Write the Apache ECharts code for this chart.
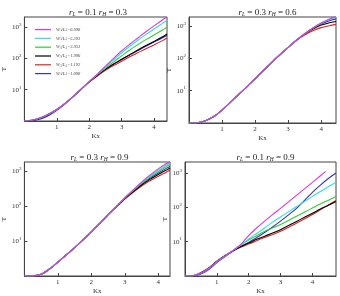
<!DOCTYPE html>
<html>
<head>
<meta charset="utf-8">
<title></title>
<script src="https://cdn.jsdelivr.net/npm/echarts@6/dist/echarts.min.js"></script>
</head>
<body style="margin:0">
<div id="chart" style="width:340px;height:296px;"></div>
<script>
// legend entries (shared by all four panels)
var names = ['6.998', '5.293', '3.953', '1.996', '1.192', '1.098'];
var colors = ['#e033e0', '#33dddd', '#33cc33', '#000000', '#dd2222', '#3333bb'];

// Kx sample points
var kx1 = [0, 0.25, 0.5, 0.75, 1, 1.25, 1.5, 1.75, 2, 2.25, 2.5, 2.75, 3, 3.25, 3.5, 3.75, 4, 4.25, 4.4];
var kx2 = [0, 0.25, 0.5, 0.75, 1, 1.25, 1.5, 1.75, 2, 2.25, 2.5, 2.75, 3, 3.25, 3.5, 3.75, 4, 4.25, 4.45];
var kx3 = [0, 0.25, 0.5, 0.75, 1, 1.25, 1.5, 1.75, 2, 2.25, 2.5, 2.75, 3, 3.25, 3.5, 3.75, 4, 4.25, 4.35];
var kx4 = [0, 0.25, 0.5, 0.75, 1, 1.25, 1.5, 1.75, 2, 2.25, 2.5, 2.75, 3, 3.25, 3.5, 3.75, 4, 4.25, 4.5, 4.74];
var kx4m = [0, 0.25, 0.5, 0.75, 1, 1.25, 1.5, 1.75, 2, 2.25, 2.5, 2.75, 3, 3.25, 3.5, 3.75, 4, 4.25, 4.42];

// panel 1: rL=0.1 rH=0.3
var p1m = [1, 1.07, 1.26, 1.66, 2.34, 3.63, 6.03, 10.5, 18.2, 31.6, 56.2, 100, 174, 282, 447, 708, 1096, 1660, 2089];
var p1c = [1, 1.07, 1.26, 1.66, 2.34, 3.63, 6.03, 10.5, 18.2, 30.9, 52.5, 89.1, 151, 240, 380, 575, 871, 1288, 1622];
var p1g = [1, 1.07, 1.26, 1.66, 2.34, 3.63, 6.03, 10.5, 18.2, 30.2, 49, 77.6, 120, 186, 275, 398, 562, 794, 1000];
var p1k = [1, 1.06, 1.24, 1.64, 2.32, 3.6, 6.0, 10.4, 17.8, 28.8, 44.7, 66.1, 93.3, 132, 186, 257, 347, 479, 603];
var p1r = [1, 1.06, 1.25, 1.65, 2.32, 3.6, 5.9, 10.2, 17.4, 27.5, 41.7, 58.9, 81.3, 112, 151, 204, 269, 363, 447];
var p1b = [1, 1.03, 1.15, 1.5, 2.2, 3.5, 5.9, 10.3, 17.8, 28.2, 43.7, 64.6, 91.2, 129, 178, 245, 331, 447, 550];

// panel 2: rL=0.3 rH=0.6
var p2m = [1, 1.02, 1.17, 1.58, 2.51, 4.37, 7.59, 13.2, 23.4, 41.7, 74.1, 129, 219, 363, 575, 871, 1230, 1622, 2000];
var p2c = [1, 1.02, 1.17, 1.58, 2.51, 4.37, 7.59, 13.2, 23.4, 41.7, 74.1, 129, 219, 363, 575, 870, 1225, 1600, 1950];
var p2g = [1, 1.02, 1.17, 1.58, 2.51, 4.37, 7.59, 13.2, 23.4, 41.7, 74.1, 129, 219, 363, 572, 860, 1202, 1585, 1905];
var p2k = [1, 1.02, 1.17, 1.58, 2.51, 4.37, 7.59, 13.2, 23.4, 41.7, 74.1, 129, 218, 360, 562, 813, 1072, 1259, 1380];
var p2r = [1, 1.02, 1.17, 1.58, 2.51, 4.37, 7.59, 13.2, 23.4, 41.7, 74.1, 128, 215, 355, 525, 708, 891, 1023, 1122];
var p2b = [1, 1.02, 1.17, 1.58, 2.51, 4.37, 7.59, 13.2, 23.4, 41.7, 74.1, 129, 219, 362, 570, 850, 1148, 1445, 1660];

// panel 3: rL=0.3 rH=0.9
var p3m = [1, 1.01, 1.12, 1.58, 2.51, 3.98, 6.46, 10.7, 18.2, 31.6, 56.2, 97.7, 170, 288, 479, 759, 1148, 1622, 1820];
var p3c = [1, 1.01, 1.12, 1.58, 2.51, 3.98, 6.46, 10.7, 18.2, 31.6, 56.2, 97.7, 170, 282, 457, 708, 1047, 1479, 1698];
var p3g = [1, 1.01, 1.12, 1.58, 2.51, 3.98, 6.46, 10.7, 18.2, 31.6, 56.2, 97.7, 170, 275, 437, 661, 955, 1349, 1549];
var p3k = [1, 1.01, 1.12, 1.58, 2.51, 3.98, 6.46, 10.7, 18.2, 31.6, 56.2, 96, 162, 257, 398, 575, 794, 1072, 1202];
var p3r = [1, 1.01, 1.12, 1.58, 2.51, 3.98, 6.46, 10.7, 18.2, 31.6, 56, 95, 158, 245, 372, 525, 708, 933, 1047];
var p3b = [1, 1.01, 1.12, 1.58, 2.51, 3.98, 6.46, 10.7, 18.2, 31.6, 56.2, 97.7, 168, 269, 417, 617, 871, 1202, 1349];

// panel 4: rL=0.1 rH=0.9 (magenta stops at Kx≈4.42)
var p4m = [1, 1.02, 1.2, 1.66, 2.63, 3.8, 5.5, 8.3, 15.1, 25.1, 39.8, 61.7, 93.3, 144.5, 224, 347, 537, 832, 1122];
var p4c = [1, 1.02, 1.2, 1.66, 2.63, 3.8, 5.5, 7.94, 12.0, 17.4, 25.1, 37.2, 52.5, 74.1, 104.7, 147.9, 208.9, 288.4, 398, 537];
var p4g = [1, 1.02, 1.2, 1.66, 2.63, 3.8, 5.5, 7.94, 11.2, 15.1, 20, 25.1, 31.6, 41.7, 55, 72.4, 95.5, 126, 162, 209];
var p4k = [1, 1.02, 1.23, 1.7, 2.69, 3.89, 5.4, 7.24, 9.12, 11.7, 14.5, 17.8, 22.4, 29.5, 38.9, 51.3, 67.6, 89.1, 115, 148];
var p4r = [1, 1.03, 1.26, 1.74, 2.69, 3.89, 5.37, 6.9, 8.5, 10.7, 13.2, 16.2, 20, 26.3, 34.7, 45.7, 61.7, 85.1, 117.5, 158.5];
var p4b = [1, 1.01, 1.15, 1.55, 2.45, 3.63, 5.25, 7.24, 9.55, 13.2, 18.6, 26.9, 39.8, 60.3, 93.3, 158.5, 275, 447, 692, 1000];

var titles = [['0.1', '0.3'], ['0.3', '0.6'], ['0.3', '0.9'], ['0.1', '0.9']];
var xMax = [4.4, 4.45, 4.35, 4.74];
var yMax = [2100, 1900, 1800, 2100];

var grids = [
    {left: 19, top: 17, width: 148, height: 104},
    {left: 189, top: 17, width: 147, height: 106},
    {left: 19, top: 162, width: 151, height: 114},
    {left: 185, top: 162, width: 151, height: 114}
];
var panels = [
    [[kx1, kx1, kx1, kx1, kx1, kx1], [p1m, p1c, p1g, p1k, p1r, p1b]],
    [[kx2, kx2, kx2, kx2, kx2, kx2], [p2m, p2c, p2g, p2k, p2r, p2b]],
    [[kx3, kx3, kx3, kx3, kx3, kx3], [p3m, p3c, p3g, p3k, p3r, p3b]],
    [[kx4m, kx4, kx4, kx4, kx4, kx4], [p4m, p4c, p4g, p4k, p4r, p4b]]
];

var serif = 'Liberation Serif';
var option = {
    backgroundColor: '#fff',
    animation: false,
    textStyle: {fontFamily: serif},
    title: [],
    grid: [],
    xAxis: [],
    yAxis: [],
    legend: {
        left: 30, top: 22,
        orient: 'vertical',
        icon: 'rect',
        itemWidth: 16, itemHeight: 1.2, itemGap: 3.6,
        data: names,
        formatter: function (n) { return 'W{s|A}/L{s|A}=' + n; },
        textStyle: {
            fontSize: 4.5, lineHeight: 5.2, color: '#444', fontFamily: serif, fontStyle: 'italic',
            rich: {s: {fontSize: 3, verticalAlign: 'bottom', fontFamily: serif, color: '#444'}}
        }
    },
    series: []
};

grids.forEach(function (g, i) {
    option.grid.push(Object.assign({show: true, borderColor: '#444', borderWidth: 1, backgroundColor: '#fff'}, g));
    option.title.push({
        text: '{i|r}{s|L}{n| = ' + titles[i][0] + ' }{i|r}{s|H}{n| = ' + titles[i][1] + '}',
        left: g.left + g.width / 2, top: g.top - 14, textAlign: 'center',
        textStyle: {
            fontWeight: 'normal',
            rich: {
                i: {fontFamily: serif, fontStyle: 'italic', fontWeight: 'normal', fontSize: 9, color: '#222'},
                s: {fontFamily: serif, fontStyle: 'italic', fontWeight: 'normal', fontSize: 5.5, color: '#222', verticalAlign: 'bottom', padding: [4, 0, 0, 0]},
                n: {fontFamily: serif, fontWeight: 'normal', fontSize: 9, color: '#222'}
            }
        }
    });
    option.xAxis.push({
        type: 'value', gridIndex: i, min: 0, max: xMax[i],
        name: 'Kx', nameLocation: 'middle', nameGap: 12,
        nameTextStyle: {fontFamily: serif, fontSize: 7, color: '#333'},
        axisLine: {lineStyle: {color: '#444'}},
        axisTick: {inside: true, length: 3, customValues: [1, 2, 3, 4], lineStyle: {color: '#444'}},
        axisLabel: {customValues: [1, 2, 3, 4], fontSize: 7, color: '#333', margin: 3, fontFamily: serif},
        splitLine: {show: false}
    });
    option.yAxis.push({
        type: 'log', logBase: 10, gridIndex: i, min: 1, max: yMax[i],
        name: 'T', nameLocation: 'middle', nameGap: 13, nameRotate: 90,
        nameTextStyle: {fontFamily: serif, fontSize: 7, color: '#333'},
        axisLine: {lineStyle: {color: '#444'}},
        axisTick: {inside: true, length: 3, customValues: [10, 100, 1000], lineStyle: {color: '#444'}},
        axisLabel: {
            customValues: [10, 100, 1000], margin: 3, color: '#333', fontSize: 7, fontFamily: serif,
            formatter: function (v) { return '10{s|' + Math.round(Math.log10(v)) + '}'; },
            rich: {s: {fontSize: 5, verticalAlign: 'top', padding: [0, 0, 5, 0], color: '#333', fontFamily: serif}}
        },
        splitLine: {show: false}
    });
    var xs = panels[i][0];
    panels[i][1].forEach(function (vals, j) {
        option.series.push({
            name: names[j], type: 'line', xAxisIndex: i, yAxisIndex: i,
            symbol: 'none', smooth: 0.3, clip: true, z: 10 - j,
            color: colors[j],
            lineStyle: {width: 1.1, color: colors[j]},
            data: xs[j].map(function (x, k) { return [x, vals[k]]; })
        });
    });
});

var chart = echarts.init(document.getElementById('chart'));
chart.setOption(option);
</script>
</body>
</html>
